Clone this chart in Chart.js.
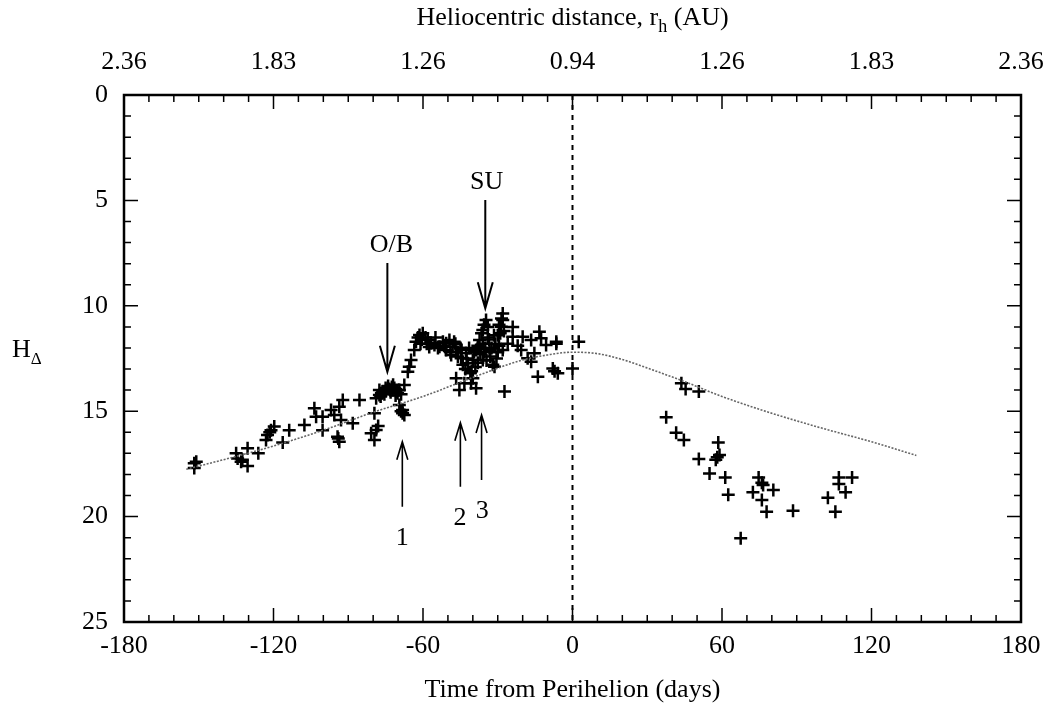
<!DOCTYPE html>
<html>
<head>
<meta charset="utf-8">
<script src="https://cdn.jsdelivr.net/npm/chart.js@4.4.0/dist/chart.umd.min.js"></script>
<style>
  html, body { margin: 0; padding: 0; background: #fff; }
  canvas { display: block; }
</style>
</head>
<body>
<canvas id="chart" width="1055" height="713"></canvas>
<script>
// observed points: days from perihelion, H_delta
const obsDays = [
  -151.8, -151.8, -151, -135, -134.4, -133, -130.4, -130.4, -126.1, -132.5,
  -123, -122.4, -121, -119.7, -121.5, -116.3, -113.7, -107.6, -102.9,
  -103.6, -100.3, -100.3, -96.9, -95.6, -93.6, -92.2, -92.9, -94.3, -93.6, -94,
  -88.2, -85.5, -80.8, -78.8, -79.5, -78, -77.5, -76.2, -74.8, -78.8, -79.5,
  -70.2, -69.5, -68.2, -76, -75, -73.5, -72.5, -77, -75.5, -70.8, -68.8,
  -74, -73, -71.5, -76.5, -72, -71,
  -77.5, -72.2, -69.5, -67.5, -68.8, -68.2, -67.5,
  -66.1, -65.5, -64.8, -63.5, -62.8, -61.4, -60.1, -58.1, -56.7, -55.4, -57.5,
  -53.4, -50.7, -49.4, -48.1, -46.7, -48.7, -50.7, -44.7, -42.7, -42.0, -40.0,
  -38.7, -37.3, -36.0, -46.7, -45.4, -43.4, -40.7, -38.7,
  -59, -61, -55, -52, -47, -45, -44, -43, -41, -39, -37, -35, -34, -33, -32, -31, -30,
  -62, -60.5, -58.5, -54, -51.5, -49, -47.5, -46, -44.5, -42.5, -41.5, -39.5,
  -38, -36.5, -35.5, -34.5, -33.5, -32.5, -31.5, -30.5, -29.5, -36, -38, -40.5,
  -34.7, -28.0, -28.0, -28.6, -29, -36.0, -33.3, -31.3, -28.0, -24.0, -20.0,
  -28.5, -29.5, -34, -35.5, -30, -27.5,
  -20.6, -16.6, -13.3, -12.6, -10.6, -6.5, -15.3, -16.6, -7.9, -5.9, -13.9,
  -27.3, -40.0, -24, -26, -22, -18, -6.5, -7.2,
  2.5, 0,
  43.7, 45.4, 50.7, 37.6, 41.6, 44.7, 58.5, 59.0, 58.1, 57.5, 50.7, 55.0, 61.3,
  62.5, 67.5, 74.7, 76.0, 76.5, 72.4, 80.6, 76.0, 77.9, 88.5, 106.9, 112.2,
  106.9, 109.6, 102.5, 105.5
];
const obsH = [
  17.47, 17.7, 17.4, 17.0, 17.24, 17.4, 17.6, 16.76, 17.0, 17.3,
  16.37, 16.13, 15.9, 15.73, 16.0, 16.49, 15.9, 15.65, 15.26,
  14.86, 15.26, 15.9, 14.94, 15.18, 14.79, 14.47, 15.42, 16.21, 16.45, 16.3,
  15.57, 14.47, 16.05, 15.89, 16.37, 15.7, 14.23, 14.07, 13.99, 14.39, 15.1,
  14.15, 14.7, 15.1, 14.1, 13.9, 13.95, 13.85, 14.3, 14.2, 14.07, 15.0,
  13.8, 14.1, 13.9, 14.15, 13.75, 14.25,
  14.0, 14.0, 14.0, 13.76, 14.2, 14.94, 15.18,
  13.13, 12.89, 12.57, 12.1, 11.7, 11.39, 11.3, 11.62, 11.78, 11.86, 11.95,
  11.94, 12.1, 11.62, 11.94, 12.18, 12.33, 11.78, 12.49, 12.25, 12.73, 12.57,
  12.1, 11.62, 11.15, 13.44, 13.99, 13.68, 13.68, 13.91,
  11.5, 11.8, 11.5, 11.7, 11.8, 12.0, 12.8, 13.0, 13.2, 12.9, 12.3, 12.0, 11.5, 12.4, 12.8, 11.8, 12.2,
  11.5, 11.6, 11.8, 12.0, 11.9, 12.2, 11.7, 12.4, 12.1, 12.5, 12.0, 12.2,
  11.9, 11.3, 12.2, 12.6, 11.6, 12.0, 11.4, 12.5, 11.9, 11.8, 12.7, 13.1,
  10.67, 10.36, 10.67, 10.99, 11.3, 12.57, 12.1, 12.89, 12.1, 11.47, 11.47,
  10.6, 10.9, 11.0, 10.9, 11.4, 11.2,
  12.1, 11.62, 11.23, 11.54, 11.86, 11.7, 12.25, 12.65, 12.97, 13.2, 13.36,
  14.07, 13.44, 11.0, 11.8, 11.9, 12.49, 11.8, 13.1,
  11.7, 12.97,
  13.68, 13.95, 14.07, 15.29, 16.02, 16.37, 16.49, 17.08, 17.19, 17.3, 17.27, 17.95, 18.14,
  18.96, 21.03, 18.14, 18.39, 18.5, 18.85, 18.74, 19.21, 19.77, 19.72, 18.15, 18.14,
  18.45, 18.85, 19.10, 19.77
];

// model light curve (dotted)
const modelDays = [-155, -140, -120, -100, -80, -60, -40, -20, -10, 0, 10, 20, 30, 45, 60, 80, 100, 120, 138];
const modelH = [17.75, 17.3, 16.65, 15.9, 15.05, 14.3, 13.4, 12.57, 12.33, 12.2, 12.27, 12.55, 12.95, 13.6, 14.3, 15.1, 15.8, 16.45, 17.1];

// perihelion marker
const periDays = [0, 0];
const periH = [0, 25];

// axes
const dayTicks = [-180, -120, -60, 0, 60, 120, 180];
const distLabels = ["2.36", "1.83", "1.26", "0.94", "1.26", "1.83", "2.36"];
const hTicks = [0, 5, 10, 15, 20, 25];

// annotation arrows
const arrowDays = [-74.3, -35, -68.3, -45, -36.5];
const arrowTail = [7.97, 4.98, 19.53, 18.58, 18.26];
const arrowTip = [13.13, 10.12, 16.45, 15.55, 15.18];
const arrowText = ["O/B", "SU", "1", "2", "3"];
const arrowTextDay = [-72.7, -34.5, -68.3, -45.2, -36.2];
const arrowTextH = [7.12, 4.13, 21.0, 20.07, 19.75];

const serif = "'Liberation Serif', 'Times New Roman', serif";
const tickFont = { family: serif, size: 26 };

function toPoints(xs, ys) {
  return xs.map((x, i) => ({ x: x, y: ys[i] }));
}

const decorations = {
  id: 'decorations',
  afterDatasetsDraw(chart) {
    const { ctx, chartArea: a, scales } = chart;
    const sx = scales.x, sy = scales.y;
    ctx.save();
    ctx.strokeStyle = '#000';

    // inward tick marks on all four sides
    ctx.lineWidth = 1.5;
    ctx.beginPath();
    for (let d = -180; d <= 180; d += 10) {
      const px = sx.getPixelForValue(d);
      const len = d % 60 === 0 ? 14 : 7;
      ctx.moveTo(px, a.bottom); ctx.lineTo(px, a.bottom - len);
      ctx.moveTo(px, a.top); ctx.lineTo(px, a.top + len);
    }
    for (let h = 0; h <= 25; h++) {
      const py = sy.getPixelForValue(h);
      const len = h % 5 === 0 ? 14 : 7;
      ctx.moveTo(a.left, py); ctx.lineTo(a.left + len, py);
      ctx.moveTo(a.right, py); ctx.lineTo(a.right - len, py);
    }
    ctx.stroke();

    ctx.lineWidth = 2.5;
    ctx.strokeRect(a.left, a.top, a.width, a.height);

    // arrows
    arrowDays.forEach((d, i) => {
      const px = sx.getPixelForValue(d);
      const y0 = sy.getPixelForValue(arrowTail[i]);
      const y1 = sy.getPixelForValue(arrowTip[i]);
      const big = i < 2;
      const hl = big ? 26 : 18, hw = big ? 7.5 : 5.5;
      const dir = y1 > y0 ? 1 : -1;
      ctx.lineWidth = big ? 2 : 1.6;
      ctx.beginPath();
      ctx.moveTo(px, y0); ctx.lineTo(px, y1);
      ctx.moveTo(px - hw, y1 - dir * hl); ctx.lineTo(px, y1); ctx.lineTo(px + hw, y1 - dir * hl);
      ctx.stroke();

      ctx.fillStyle = '#000';
      ctx.font = '26px ' + serif;
      ctx.textAlign = 'center';
      ctx.textBaseline = 'middle';
      ctx.fillText(arrowText[i], sx.getPixelForValue(arrowTextDay[i]), sy.getPixelForValue(arrowTextH[i]));
    });

    // axis titles
    ctx.fillStyle = '#000';
    ctx.textBaseline = 'middle';
    ctx.font = '26px ' + serif;
    ctx.textAlign = 'center';
    ctx.fillText('Time from Perihelion (days)', (a.left + a.right) / 2, 690);

    // top title with subscript
    const t1 = 'Heliocentric distance, r', t2 = 'h', t3 = ' (AU)';
    ctx.font = '26px ' + serif;
    const w1 = ctx.measureText(t1).width, w3 = ctx.measureText(t3).width;
    ctx.font = '18px ' + serif;
    const w2 = ctx.measureText(t2).width;
    let x0 = (a.left + a.right) / 2 - (w1 + w2 + w3) / 2;
    ctx.textAlign = 'left';
    ctx.font = '26px ' + serif;
    ctx.fillText(t1, x0, 18);
    ctx.font = '18px ' + serif;
    ctx.fillText(t2, x0 + w1, 27);
    ctx.font = '26px ' + serif;
    ctx.fillText(t3, x0 + w1 + w2, 18);

    // y title H_delta
    ctx.font = '26px ' + serif;
    ctx.fillText('H', 12, 350);
    const wh = ctx.measureText('H').width;
    ctx.font = '17px ' + serif;
    ctx.fillText('\u0394', 12 + wh, 360);

    ctx.restore();
  }
};

// fixed axis box sizes, no label overflow padding
const fitX = h => s => { s.height = h; s.paddingLeft = 0; s.paddingRight = 0; };

new Chart(document.getElementById('chart'), {
  type: 'scatter',
  data: {
    datasets: [
      {
        label: 'perihelion',
        data: toPoints(periDays, periH),
        showLine: true,
        pointRadius: 0,
        borderColor: '#000',
        borderWidth: 2,
        borderDash: [5, 5]
      },
      {
        label: 'model',
        data: toPoints(modelDays, modelH),
        showLine: true,
        pointRadius: 0,
        borderColor: '#666',
        borderWidth: 1.6,
        borderDash: [2, 1.5],
        cubicInterpolationMode: 'monotone'
      },
      {
        label: 'observed',
        data: toPoints(obsDays, obsH),
        pointStyle: 'cross',
        pointRadius: 6.5,
        borderColor: '#000',
        borderWidth: 2.5
      }
    ]
  },
  options: {
    responsive: false,
    animation: false,
    devicePixelRatio: 1,
    layout: { padding: 0 },
    plugins: { legend: { display: false }, tooltip: { enabled: false } },
    scales: {
      x: {
        type: 'linear', position: 'bottom', min: -180, max: 180,
        grid: { display: false, drawTicks: false }, border: { display: false },
        ticks: {
          stepSize: 60, padding: 9, font: tickFont, color: '#000',
          maxRotation: 0, autoSkip: false,
          callback: v => dayTicks.includes(v) ? String(v) : ''
        },
        afterFit: fitX(91)
      },
      x2: {
        type: 'linear', position: 'top', min: -180, max: 180,
        grid: { display: false, drawTicks: false }, border: { display: false },
        ticks: {
          stepSize: 60, padding: 17, font: tickFont, color: '#000',
          maxRotation: 0, autoSkip: false,
          callback: v => dayTicks.includes(v) ? distLabels[dayTicks.indexOf(v)] : ''
        },
        afterFit: fitX(95)
      },
      y: {
        type: 'linear', position: 'left', reverse: true, min: 0, max: 25,
        grid: { display: false, drawTicks: false }, border: { display: false },
        ticks: {
          stepSize: 5, padding: 16, font: tickFont, color: '#000',
          callback: v => hTicks.includes(v) ? String(v) : ''
        },
        afterFit: s => { s.width = 124; s.paddingTop = 0; s.paddingBottom = 0; }
      },
      y2: {
        type: 'linear', position: 'right', reverse: true, min: 0, max: 25,
        grid: { display: false, drawTicks: false }, border: { display: false },
        ticks: { display: false },
        afterFit: s => { s.width = 34; s.paddingTop = 0; s.paddingBottom = 0; }
      }
    }
  },
  plugins: [decorations]
});
</script>
</body>
</html>
